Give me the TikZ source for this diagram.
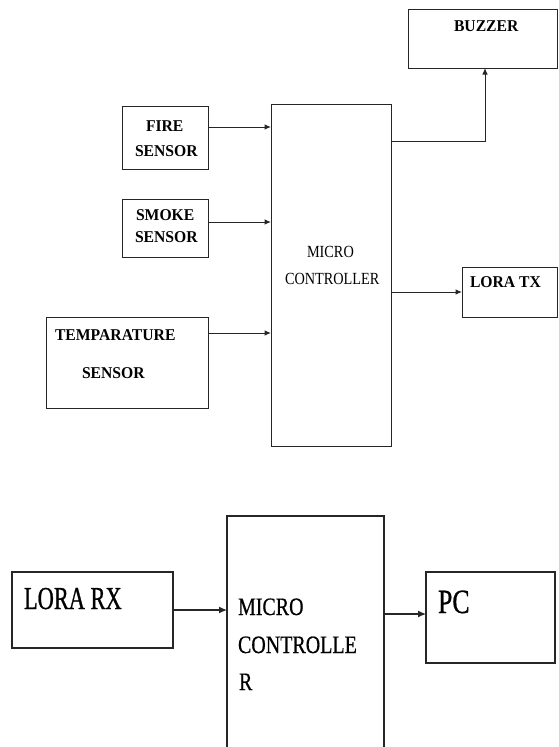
\documentclass[tikz,border=0pt]{standalone}
\usepackage{fontspec}
\setmainfont{Liberation Serif}
\newfontfamily\boldfnt[FakeStretch=0.95]{Liberation Serif}
\newfontfamily\midfnt[FakeStretch=0.84]{Liberation Serif}
\newfontfamily\lrgfnt[FakeStretch=0.7,FakeBold=0.7]{Liberation Serif}
\newfontfamily\micfnt[FakeStretch=0.8,FakeBold=0.5]{Liberation Serif}
\newfontfamily\pcfnt[FakeStretch=0.76,FakeBold=0.7]{Liberation Serif}
\usetikzlibrary{arrows.meta}
\begin{document}
\begin{tikzpicture}[x=1pt,y=-1pt,
  box/.style={draw=black!85, line width=1pt, inner sep=0pt, outer sep=0pt, anchor=north west},
  lbl/.style={anchor=base west, inner sep=0pt, outer sep=0pt, text=black},
  bl/.style={lbl, font=\boldfnt\bfseries\fontsize{16.5}{19}\selectfont},
  ml/.style={lbl, font=\midfnt\fontsize{17}{20}\selectfont},
  arr/.style={draw=black!85, line width=1pt, -{Latex[length=6.5pt,width=5.5pt]}},
  arrb/.style={draw=black!85, line width=1.2pt, -{Latex[length=8pt,width=7pt]}}]
\useasboundingbox (0,0) rectangle (558,747);
\clip (0,0) rectangle (558,747);
% top diagram boxes
\node[box, minimum width=149pt, minimum height=59pt] (buzzer) at (408,9) {};
\node[box, minimum width=86pt, minimum height=63pt] (fire) at (122,106) {};
\node[box, minimum width=86pt, minimum height=58pt] (smoke) at (122,199) {};
\node[box, minimum width=162pt, minimum height=91pt] (temp) at (46,317) {};
\node[box, minimum width=120pt, minimum height=342pt] (mc) at (271,104) {};
\node[box, minimum width=95pt, minimum height=50pt] (loratx) at (462,267) {};
% top labels
\node[bl] (tbuzzer) at (454,31) {BUZZER};
\node[bl] (tfire1) at (146,131) {FIRE};
\node[bl] (tfire2) at (135,156) {SENSOR};
\node[bl] (tsmoke1) at (136,220) {SMOKE};
\node[bl] (tsmoke2) at (135,242) {SENSOR};
\node[bl] (ttemp1) at (55,340) {TEMPARATURE};
\node[bl] (ttemp2) at (82,378) {SENSOR};
\node[bl] (tloratx) at (470,287) {LORA TX};
\node[ml] (tmc1) at (307,257) {MICRO};
\node[ml] (tmc2) at (285,284) {CONTROLLER};
% top connectors
\draw[arr] ([yshift=10.5pt]fire.east) -- ([yshift=10.5pt]fire.east -| mc.west);
\draw[arr] ([yshift=6pt]smoke.east) -- ([yshift=6pt]smoke.east -| mc.west);
\draw[arr] ([yshift=29.5pt]temp.east) -- ([yshift=29.5pt]temp.east -| mc.west);
\draw[arr] ([yshift=-37pt]mc.north east) -| ([xshift=2.5pt]buzzer.south);
\draw[arr] (loratx.west -| mc.east) -- (loratx.west);
% bottom diagram
\node[box, line width=1.2pt, minimum width=161pt, minimum height=76pt] (lorarx) at (12,572) {};
\node[box, line width=1.2pt, minimum width=157pt, minimum height=250pt] (mc2) at (227,516) {};
\node[box, line width=1.2pt, minimum width=129pt, minimum height=91pt] (pc) at (426,572) {};
\node[lbl, font=\lrgfnt\fontsize{32}{36}\selectfont] (tlorarx) at (24,609) {LORA RX};
\node[lbl, font=\micfnt\fontsize{25}{30}\selectfont] (tmcb1) at (238,615) {MICRO};
\node[lbl, font=\micfnt\fontsize{25}{30}\selectfont] (tmcb2) at (238,653) {CONTROLLE};
\node[lbl, font=\micfnt\fontsize{25}{30}\selectfont] (tmcb3) at (239,690) {R};
\node[lbl, font=\pcfnt\fontsize{34}{38}\selectfont] (tpc) at (438,613) {PC};
\draw[arrb] (lorarx.east) -- (lorarx.east -| mc2.west);
\draw[arrb] ([yshift=3.5pt]pc.west -| mc2.east) -- ([yshift=3.5pt]pc.west);
\end{tikzpicture}
\end{document}
